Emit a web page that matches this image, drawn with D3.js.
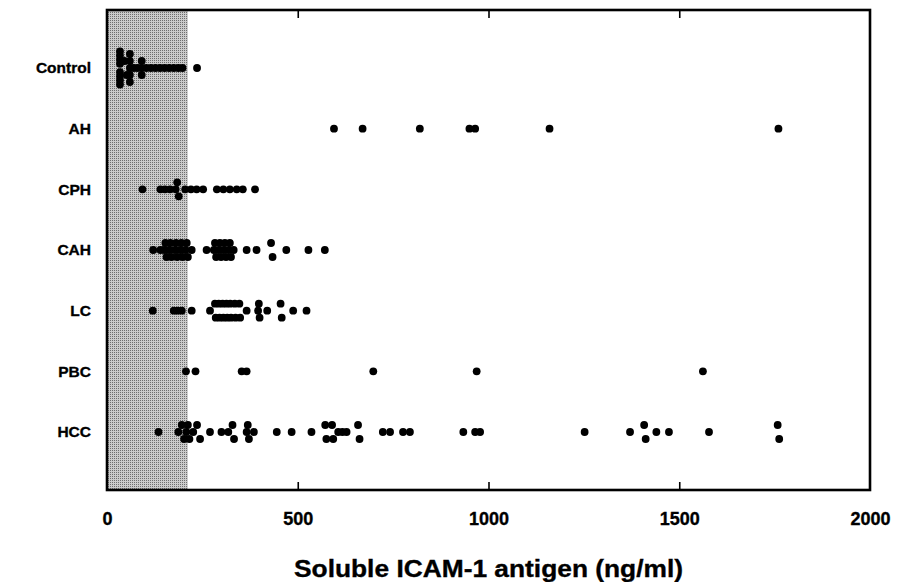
<!DOCTYPE html>
<html>
<head>
<meta charset="utf-8">
<script src="https://cdn.jsdelivr.net/npm/d3@7"></script>
<style>
    body { margin: 0; background: #fff; }
    svg { display: block; }
    .lbl text { font-family: "Liberation Sans", Arial, sans-serif; font-weight: bold; fill: #000;
        stroke: #000; stroke-width: 0.35px; }
</style>
</head>
<body>
<div id="chart"></div>
<script>
/* global d3 */

// DATA
var categories = ['Control', 'AH', 'CPH', 'CAH', 'LC', 'PBC', 'HCC'];
var xTicks = [0, 500, 1000, 1500, 2000];
var normalUpper = 212;   // upper limit of the normal range (shaded)

var controlValues = [34, 34, 34, 34, 34, 34, 34, 34, 46, 52, 60, 60, 60, 60, 60, 70, 80, 91, 91, 91,
    103, 115, 127, 139, 151, 163, 175, 187, 198, 236];
var ahValues = [595, 670, 820, 950, 965, 1160, 1760];
var cphValues = [93, 140, 152, 165, 180, 184, 188, 205, 220, 235, 252, 288, 305, 322, 340, 356, 388];
var cahValues = [121, 140, 150, 153, 156, 163, 166, 169, 178, 181, 184, 192, 195, 198, 206, 209, 212, 222,
    261, 280, 283, 286, 293, 296, 299, 306, 309, 312, 319, 322, 325, 332, 366, 392, 430, 434, 470, 528, 571];
var lcValues = [120, 175, 185, 196, 222, 270, 283, 285, 293, 295, 303, 305, 313, 315, 323, 325, 335, 337,
    347, 349, 366, 396, 398, 400, 420, 455, 458, 488, 523];
var pbcValues = [207, 232, 353, 366, 698, 969, 1562];
var hccValues = [135, 187, 196, 202, 208, 212, 216, 226, 236, 244, 270, 300, 318, 329, 333, 366, 369, 372,
    385, 445, 484, 536, 572, 575, 590, 593, 606, 617, 628, 658, 662, 723, 742, 776, 794, 934, 965, 978,
    1252, 1371, 1408, 1412, 1440, 1473, 1578, 1758, 1762];

var groups = [controlValues, ahValues, cphValues, cahValues, lcValues, pbcValues, hccValues];

var width = 903,
    height = 582,
    margin = { top: 10, right: 33, bottom: 92, left: 107 },
    dotR = 3.9,
    stackStep = 7,
    maxStackSpan = 33,
    stackGap = 8;   // values closer than this to a stack's first value join the stack

var x = d3.scaleLinear()
    .domain([0, 2000])
    .range([margin.left, width - margin.right]);

var y = d3.scalePoint()
    .domain(categories)
    .range([margin.top, height - margin.bottom])
    .padding(0.956);

// stack near-equal values vertically, centred on the row
function layout(cat, values) {
    var sorted = values.slice().sort(d3.ascending),
        stacks = [];
    sorted.forEach(function (v) {
        var last = stacks[stacks.length - 1];
        if (last && v - last[0] <= stackGap) last.push(v);
        else stacks.push([v]);
    });
    var out = [];
    stacks.forEach(function (s) {
        var n = s.length,
            units = n % 2 ? n - 1 : n,
            step = units ? Math.min(stackStep, maxStackSpan / units) : stackStep;
        s.forEach(function (v, i) {
            var k;
            if (n % 2) k = i === 0 ? 0 : (i % 2 ? -1 : 1) * Math.ceil(i / 2);
            else k = (i % 2 ? 1 : -1) * (Math.floor(i / 2) + 1);
            out.push({ cat: cat, value: v, dy: k * step });
        });
    });
    return out;
}

var points = [];
categories.forEach(function (c, i) { points = points.concat(layout(c, groups[i])); });

var svg = d3.select('#chart').append('svg')
    .attr('width', width)
    .attr('height', height);

// halftone pattern for the normal range
var pat = svg.append('defs').append('pattern')
    .attr('id', 'dots')
    .attr('width', 2).attr('height', 2)
    .attr('patternUnits', 'userSpaceOnUse');
pat.append('rect').attr('width', 2).attr('height', 2).attr('fill', '#cbcbcb');
pat.append('rect').attr('width', 1).attr('height', 1).attr('fill', '#6e6e6e');

var plotTop = margin.top,
    plotBottom = height - margin.bottom;

svg.append('rect')
    .attr('x', x(0))
    .attr('y', plotTop)
    .attr('width', x(normalUpper) - x(0))
    .attr('height', plotBottom - plotTop)
    .attr('fill', 'url(#dots)');

// inward ticks, top and bottom
svg.append('g')
    .attr('transform', 'translate(0,' + plotBottom + ')')
    .call(d3.axisTop(x).tickValues(xTicks.slice(1, -1)).tickSize(8).tickFormat(''))
    .call(function (g) {
        g.select('.domain').remove();
        g.selectAll('line').attr('stroke-width', 1.6);
    });
svg.append('g')
    .attr('transform', 'translate(0,' + plotTop + ')')
    .call(d3.axisBottom(x).tickValues(xTicks.slice(1, -1)).tickSize(8).tickFormat(''))
    .call(function (g) {
        g.select('.domain').remove();
        g.selectAll('line').attr('stroke-width', 1.6);
    });

// x tick labels
svg.append('g')
    .attr('class', 'lbl')
    .attr('transform', 'translate(0,' + plotBottom + ')')
    .call(d3.axisBottom(x).tickValues(xTicks).tickSize(0).tickPadding(22).tickFormat(d3.format('d')))
    .call(function (g) {
        g.select('.domain').remove();
        g.selectAll('text').style('font-size', '18px');
    });

// category labels
svg.append('g')
    .attr('class', 'lbl')
    .attr('transform', 'translate(' + margin.left + ',0)')
    .call(d3.axisLeft(y).tickSize(0).tickPadding(16))
    .call(function (g) {
        g.select('.domain').remove();
        g.selectAll('text').style('font-size', '15.5px');
    });

// DRAW DOTS
svg.append('g')
    .selectAll('circle')
    .data(points)
    .enter().append('circle')
    .attr('cx', function (d) { return x(d.value); })
    .attr('cy', function (d) { return y(d.cat) + d.dy; })
    .attr('r', dotR)
    .attr('fill', '#000');

// frame
svg.append('rect')
    .attr('x', x(0))
    .attr('y', plotTop)
    .attr('width', x(2000) - x(0))
    .attr('height', plotBottom - plotTop)
    .attr('fill', 'none')
    .attr('stroke', '#000')
    .attr('stroke-width', 2.6);

// axis title
svg.append('g').attr('class', 'lbl')
    .append('text')
    .attr('x', (x(0) + x(2000)) / 2)
    .attr('y', 577)
    .attr('text-anchor', 'middle')
    .attr('textLength', 389)
    .attr('lengthAdjust', 'spacingAndGlyphs')
    .style('font-size', '24px')
    .text('Soluble ICAM-1 antigen (ng/ml)');
</script>
</body>
</html>
